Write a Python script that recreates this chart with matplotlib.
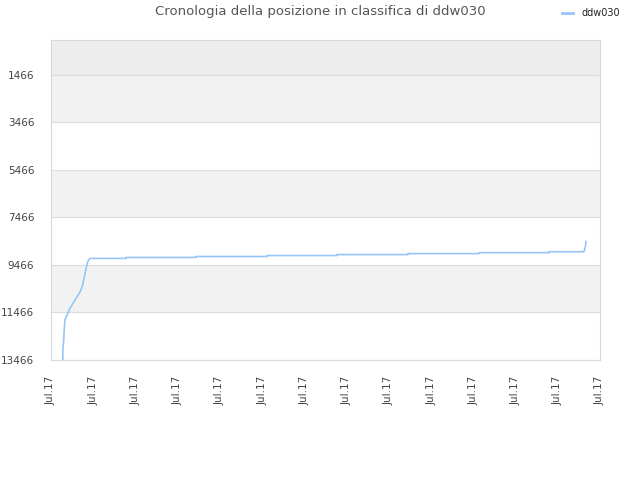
import matplotlib
matplotlib.use("Agg")
import matplotlib.pyplot as plt
from matplotlib.lines import Line2D

title = "Cronologia della posizione in classifica di ddw030"
series_name = "ddw030"
tick_labels = ["Jul.17"] * 14
y_ticks = [1466, 3466, 5466, 7466, 9466, 11466, 13466]

# vertices of the rank line (x in tick units, y = rank)
xs = [0.28, 0.28, 0.30, 0.31, 0.33, 0.45, 0.57, 0.69, 0.75, 0.79, 0.83, 0.87, 0.92,
      1.78, 1.78, 3.43, 3.43, 5.11, 5.11, 6.77, 6.77, 8.45, 8.45, 10.14, 10.14,
      11.79, 11.79, 12.62, 12.65, 12.67]
ys = [13466, 13060, 12650, 12270, 11780, 11290, 10940, 10590, 10310, 9960, 9610, 9330, 9190,
      9190, 9150, 9150, 9110, 9110, 9070, 9070, 9030, 9030, 8990, 8990, 8950,
      8950, 8910, 8910, 8740, 8480]

line_color = "#96c6f5"

fig = plt.figure(figsize=(6.4, 4.8), dpi=100)
ax = fig.add_axes([51/640, 1-360/480, 549/640, 320/480])

ax.set_xlim(0, 13)
ax.set_ylim(13466, 0)

# background bands
bands = [0] + y_ticks
for i in range(len(bands) - 1):
    if i == 0:
        c = "#ededed"
    elif i % 2 == 1:
        c = "#f2f2f2"
    else:
        c = "#ffffff"
    ax.axhspan(bands[i], bands[i+1], color=c, zorder=0, lw=0)
for yv in y_ticks:
    ax.axhline(yv, color="#dcdcdc", lw=0.8, zorder=1)

ax.plot(xs, ys, color=line_color, lw=1.2, zorder=3, label=series_name)

ax.set_yticks(y_ticks)
ax.set_yticklabels([str(v) for v in y_ticks])
ax.set_xticks(range(14))
ax.set_xticklabels(tick_labels, rotation=90)
ax.tick_params(axis="both", length=0, labelsize=7.5, colors="#444444")
ax.tick_params(axis="y", pad=12)
ax.tick_params(axis="x", pad=11)
for s in ax.spines.values():
    s.set_color("#d8d8d8")
    s.set_linewidth(0.8)

fig.text(0.5, 1-12/480, title, ha="center", va="center", fontsize=9.5, color="#555555")
handle = Line2D([], [], color=line_color, lw=2)
fig.legend(handles=[handle], labels=[series_name], loc="center",
           bbox_to_anchor=(591/640, 1-13/480), frameon=False, fontsize=7,
           handlelength=1.1, handletextpad=0.9, labelcolor="#222222")

fig.savefig("out.png", dpi=100)
